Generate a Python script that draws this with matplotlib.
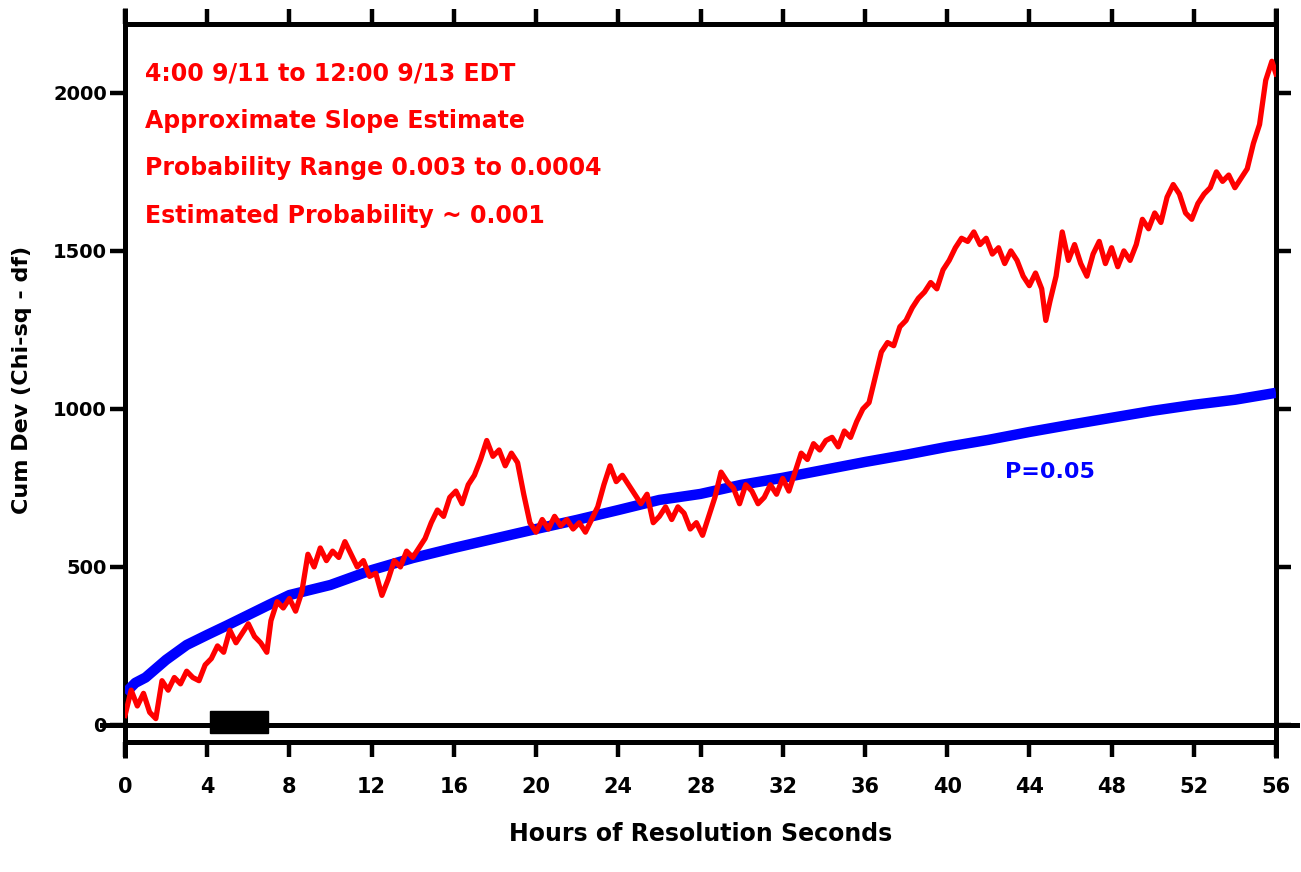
import matplotlib
matplotlib.use("Agg")
import matplotlib.pyplot as plt
from matplotlib.patches import Rectangle

# ---- data ----
red_hours = [0.0, 0.3, 0.6, 0.9, 1.2, 1.5, 1.8, 2.1, 2.4, 2.7, 3.0, 3.3, 3.6, 3.9, 4.2, 4.5, 4.8,
             5.1, 5.4, 5.7, 6.0, 6.3, 6.6, 6.9, 7.1, 7.4, 7.7, 8.0, 8.3, 8.6, 8.9, 9.2, 9.5, 9.8,
             10.1, 10.4, 10.7, 11.0, 11.3, 11.6, 11.9, 12.2, 12.5, 12.8, 13.1, 13.4, 13.7, 14.0,
             14.3, 14.6, 14.9, 15.2, 15.5, 15.8, 16.1, 16.4, 16.7, 17.0, 17.3, 17.6, 17.9, 18.2,
             18.5, 18.8, 19.1, 19.4, 19.7, 20.0, 20.3, 20.6, 20.9, 21.2, 21.5, 21.8, 22.1, 22.4,
             22.7, 23.0, 23.3, 23.6, 23.9, 24.2, 24.5, 24.8, 25.1, 25.4, 25.7, 26.0, 26.3, 26.6,
             26.9, 27.2, 27.5, 27.8, 28.1, 28.4, 28.7, 29.0, 29.3, 29.6, 29.9, 30.2, 30.5, 30.8,
             31.1, 31.4, 31.7, 32.0, 32.3, 32.6, 32.9, 33.2, 33.5, 33.8, 34.1, 34.4, 34.7, 35.0,
             35.3, 35.6, 35.9, 36.2, 36.5, 36.8, 37.1, 37.4, 37.7, 38.0, 38.3, 38.6, 38.9, 39.2,
             39.5, 39.8, 40.1, 40.4, 40.7, 41.0, 41.3, 41.6, 41.9, 42.2, 42.5, 42.8, 43.1, 43.4,
             43.7, 44.0, 44.3, 44.6, 44.8, 45.0, 45.3, 45.6, 45.9, 46.2, 46.5, 46.8, 47.1, 47.4,
             47.7, 48.0, 48.3, 48.6, 48.9, 49.2, 49.5, 49.8, 50.1, 50.4, 50.7, 51.0, 51.3, 51.6,
             51.9, 52.2, 52.5, 52.8, 53.1, 53.4, 53.7, 54.0, 54.3, 54.6, 54.9, 55.2, 55.5, 55.8,
             56.0]
red_values = [30, 110, 60, 100, 40, 20, 140, 110, 150, 130, 170, 150, 140, 190, 210, 250, 230,
              300, 260, 290, 320, 280, 260, 230, 330, 390, 370, 400, 360, 420, 540, 500, 560, 520,
              550, 530, 580, 540, 500, 520, 470, 480, 410, 460, 520, 500, 550, 530,
              560, 590, 640, 680, 660, 720, 740, 700, 760, 790, 840, 900, 850, 870,
              820, 860, 830, 730, 640, 610, 650, 620, 660, 630, 650, 620, 640, 610,
              650, 690, 760, 820, 770, 790, 760, 730, 700, 730, 640, 660, 690, 650,
              690, 670, 620, 640, 600, 660, 720, 800, 770, 750, 700, 760, 740, 700,
              720, 760, 730, 780, 740, 800, 860, 840, 890, 870, 900, 910, 880, 930,
              910, 960, 1000, 1020, 1100, 1180, 1210, 1200, 1260, 1280, 1320, 1350, 1370, 1400,
              1380, 1440, 1470, 1510, 1540, 1530, 1560, 1520, 1540, 1490, 1510, 1460, 1500, 1470,
              1420, 1390, 1430, 1380, 1280, 1340, 1420, 1560, 1470, 1520, 1460, 1420, 1490, 1530,
              1460, 1510, 1450, 1500, 1470, 1520, 1600, 1570, 1620, 1590, 1670, 1710, 1680, 1620,
              1600, 1650, 1680, 1700, 1750, 1720, 1740, 1700, 1730, 1760, 1840, 1900, 2040, 2100,
              2060]

blue_hours = [0, 0.5, 1, 2, 3, 4, 5, 6, 7, 8, 10, 12, 14, 16, 18, 20, 22, 24, 26, 28, 30,
              32, 34, 36, 38, 40, 42, 44, 46, 48, 50, 52, 54, 56]
blue_values = [100, 133, 150, 206, 253, 285, 316, 348, 380, 411, 443, 490, 528, 560, 590, 620,
               649, 680, 712, 731, 760, 782, 807, 832, 855, 880, 902, 927, 950, 972, 994, 1013,
               1029, 1051]

x_ticks = list(range(0, 57, 4))
y_ticks = [0, 500, 1000, 1500, 2000]

annotation_lines = ["4:00 9/11 to 12:00 9/13 EDT",
                    "Approximate Slope Estimate",
                    "Probability Range 0.003 to 0.0004",
                    "Estimated Probability ~ 0.001"]
envelope_label = "P=0.05"
x_label = "Hours of Resolution Seconds"
y_label = "Cum Dev (Chi-sq - df)"

# ---- figure ----
W, H = 1301, 872
fig = plt.figure(figsize=(W / 100, H / 100), dpi=100)
fig.patch.set_facecolor("white")
ax = fig.add_axes([125 / W, 1 - 742 / H, (1276 - 125) / W, (742 - 24) / H])
ax.set_xlim(0, 56)
ax.set_ylim(-54, 2218)

lw_spine = 3.6
for s in ax.spines.values():
    s.set_linewidth(lw_spine)
    s.set_color("black")

ax.tick_params(axis="both", which="both", direction="out", length=11, width=3.2,
               top=True, right=True, labeltop=False, labelright=False,
               labelsize=15, pad=14)
ax.tick_params(axis="y", pad=2, labelsize=14)
ax.set_xticks(x_ticks)
ax.set_yticks(y_ticks)
for lab in ax.get_xticklabels() + ax.get_yticklabels():
    lab.set_fontweight("bold")

# zero line extending beyond axes
ax.axhline(0, color="black", lw=3.6, zorder=2)
ax.plot([-1.1, 57.0], [0, 0], color="black", lw=3.6, clip_on=False, zorder=2)

# extended spine stubs
ax.plot([0, 0], [-54 - 50, 2218 + 50], color="black", lw=lw_spine, clip_on=False,
        solid_capstyle="butt")
ax.plot([56, 56], [-54 - 50, 2218 + 50], color="black", lw=lw_spine, clip_on=False,
        solid_capstyle="butt")

# small black box near zero line
ax.add_patch(Rectangle((4.15, -25), 2.8, 68, facecolor="black", edgecolor="black", zorder=3))

ax.plot(blue_hours, blue_values, color="#0000FF", lw=7.5, solid_capstyle="butt", zorder=3)
ax.plot(red_hours, red_values, color="#FF0000", lw=3.8, zorder=4)

ax.text(42.8, 800, envelope_label, color="#0000FF", fontsize=16, fontweight="bold",
        va="center", ha="left")

for i, line in enumerate(annotation_lines):
    ax.text(0.0175, 1 - (73 - 24 + i * 47.5) / (742 - 24), line,
            transform=ax.transAxes, color="#FF0000", fontsize=17, fontweight="bold",
            va="center", ha="left")

ax.set_xlabel(x_label, fontsize=17, fontweight="bold", labelpad=18)
ax.set_ylabel(y_label, fontsize=16, fontweight="bold")
ax.yaxis.set_label_coords((32 - 125) / (1276 - 125), (742 - 380) / (742 - 24))

fig.savefig("out.png", dpi=100, facecolor="white")
